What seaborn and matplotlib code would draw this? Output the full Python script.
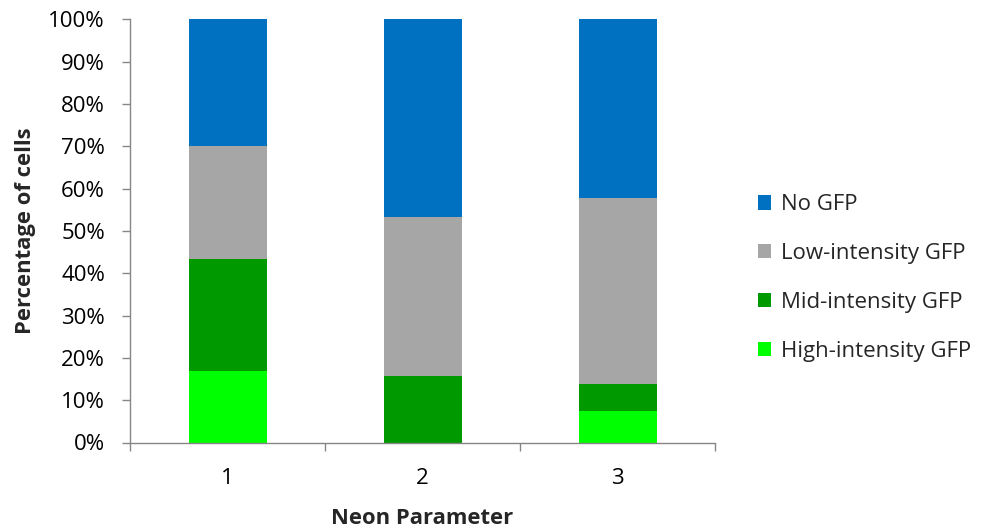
import numpy as np
import pandas as pd
import matplotlib
matplotlib.use("Agg")
import matplotlib.pyplot as plt
import seaborn as sns
from matplotlib.patches import Patch
from matplotlib.ticker import PercentFormatter, FixedLocator

# Percentage of cells in each GFP-intensity class per Neon parameter
parameters = ["1", "2", "3"]
high_gfp = [16.8, 0.0, 7.5]
mid_gfp = [26.5, 15.6, 6.4]
low_gfp = [26.8, 37.6, 43.8]
no_gfp = [29.9, 46.8, 42.3]

classes = ["High-intensity GFP", "Mid-intensity GFP", "Low-intensity GFP", "No GFP"]
colors = {"No GFP": "#0070C0", "Low-intensity GFP": "#A6A6A6",
          "Mid-intensity GFP": "#009900", "High-intensity GFP": "#00FF00"}

df = pd.DataFrame({"param": parameters, "High-intensity GFP": high_gfp,
                   "Mid-intensity GFP": mid_gfp, "Low-intensity GFP": low_gfp,
                   "No GFP": no_gfp})

sns.set_theme(style="white")
plt.rcParams["font.family"] = ["Open Sans", "DejaVu Sans"]

fig = plt.figure(figsize=(9.91, 5.30), dpi=100)
ax = fig.add_axes([130 / 991, 1 - 442.5 / 530, 585 / 991, 423.2 / 530])

# stacked bars: draw cumulative totals from the top layer down
cum = np.cumsum(df[classes].to_numpy(), axis=1)
for i in range(len(classes) - 1, -1, -1):
    sns.barplot(x=df["param"], y=cum[:, i], color=colors[classes[i]],
                width=0.4, saturation=1, ax=ax, linewidth=0)

ax.set_xlim(-0.5, 2.5)
ax.set_ylim(0, 100)
ax.yaxis.set_major_locator(FixedLocator(np.arange(0, 101, 10)))
ax.yaxis.set_major_formatter(PercentFormatter(decimals=0))

for s in ["top", "right"]:
    ax.spines[s].set_visible(False)
for s in ["left", "bottom"]:
    ax.spines[s].set_color("#868686")
    ax.spines[s].set_linewidth(1.0)

ax.tick_params(axis="y", which="major", left=True, length=6, width=1,
               color="#868686", labelsize=16, pad=12, labelcolor="#000000")
ax.tick_params(axis="x", which="major", bottom=False, labelsize=16,
               pad=12, labelcolor="#000000")
ax.set_xticks([0, 1, 2])
ax.set_xticklabels(parameters)
ax.set_xticks([-0.5, 0.5, 1.5, 2.5], minor=True)
ax.tick_params(axis="x", which="minor", bottom=True, length=5.5, width=1,
               color="#868686")

ax.set_xlabel("Neon Parameter", fontsize=15.8, fontweight="bold", labelpad=14)
ax.set_ylabel("Percentage of cells", fontsize=15.8, fontweight="bold", labelpad=9)

handles = [Patch(facecolor=colors[c], edgecolor="none", label=c) for c in reversed(classes)]
leg = fig.legend(handles=handles, loc="center left", bbox_to_anchor=(738 / 991, 1 - 278 / 530),
                 frameon=False, fontsize=16, handlelength=0.6, handleheight=0.6,
                 handletextpad=0.45, labelspacing=1.25)

fig.savefig("out.png", dpi=100)
